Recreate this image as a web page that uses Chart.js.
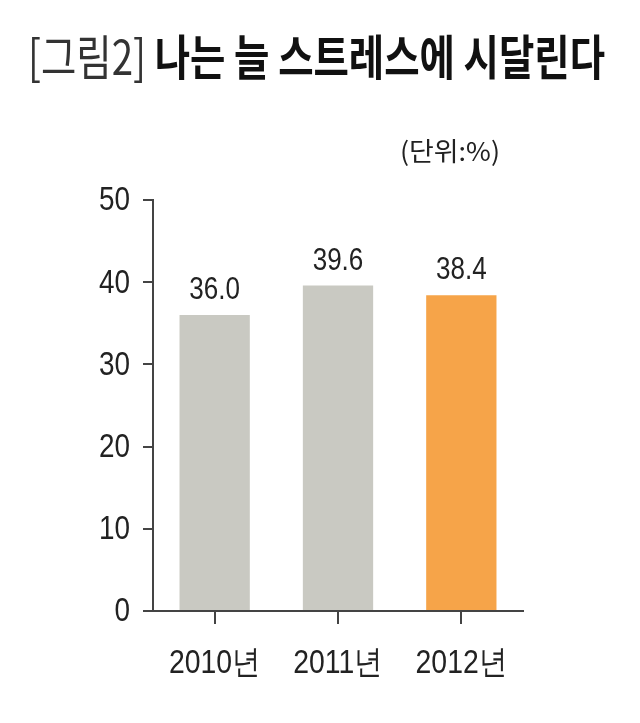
<!DOCTYPE html>
<html>
<head>
<meta charset="utf-8">
<script src="https://cdn.jsdelivr.net/npm/chart.js@4.4.0/dist/chart.umd.min.js"></script>
<style>
  html, body { margin: 0; padding: 0; background: #fff; }
  #wrap { position: relative; width: 640px; height: 723px; overflow: hidden; }
  #title { position: absolute; left: 28px; top: 30px; white-space: nowrap;
           font-family: "Noto Sans CJK KR", sans-serif; font-size: 48px; color: #111;
           transform-origin: 0 0; line-height: 1; }
  #title .pre { font-weight: 400; color: #333; }
  #title .main { font-weight: 700; }
  #unit { position: absolute; left: 400px; top: 137px; white-space: nowrap;
          font-family: "Noto Sans CJK KR", sans-serif; font-size: 26px; color: #222;
          transform-origin: 0 0; line-height: 1; }
  canvas { position: absolute; left: 0; top: 0; }
</style>
</head>
<body>
<div id="wrap">
  <canvas id="c" width="640" height="723"></canvas>
  <div id="title"><span class="pre">[그림2]</span> <span class="main">나는 늘 스트레스에 시달린다</span></div>
  <div id="unit">(단위:%)</div>
</div>
<script>
const categories = ["2010년", "2011년", "2012년"];
const values = [36.0, 39.6, 38.4];
const valueLabels = ["36.0", "39.6", "38.4"];
const yTicks = [0, 10, 20, 30, 40, 50];
const barColors = ["#c9c9c2", "#c9c9c2", "#f6a449"];

function fit(id, target) {
  const el = document.getElementById(id);
  const w = el.getBoundingClientRect().width;
  el.style.transform = "scaleX(" + (target / w) + ")";
}
fit("title", 577);
fit("unit", 100);

const numFont = "'Liberation Sans', Arial, sans-serif";

// draw text horizontally condensed (the reference uses a narrow face)
function drawNarrow(ctx, text, x, y, align, baseline, font, sx) {
  ctx.save();
  ctx.font = font;
  ctx.fillStyle = "#222";
  ctx.textAlign = align;
  ctx.textBaseline = baseline;
  ctx.translate(x, y);
  ctx.scale(sx, 1);
  ctx.fillText(text, 0, 0);
  ctx.restore();
}

const labelPlugin = {
  id: "narrowLabels",
  afterDraw(chart) {
    const ctx = chart.ctx;
    const xs = chart.scales.x, ys = chart.scales.y;
    // y tick labels
    ys.ticks.forEach(t => {
      drawNarrow(ctx, String(t.value), xs.left - 23, ys.getPixelForValue(t.value) + 1,
                 "right", "middle", "34px " + numFont, 0.82);
    });
    // x tick labels
    categories.forEach((c, i) => {
      drawNarrow(ctx, c, xs.getPixelForValue(i), ys.bottom + 53,
                 "center", "middle", "33px " + numFont, 0.86);
    });
    // value labels
    const meta = chart.getDatasetMeta(0);
    meta.data.forEach((bar, i) => {
      drawNarrow(ctx, valueLabels[i], bar.x, bar.y - 9,
                 "center", "bottom", "31px " + numFont, 0.84);
    });
  }
};

new Chart(document.getElementById("c"), {
  type: "bar",
  data: {
    labels: categories,
    datasets: [{
      data: values,
      backgroundColor: barColors,
      borderWidth: 0,
      categoryPercentage: 1,
      barPercentage: 0.57
    }]
  },
  options: {
    responsive: false,
    animation: false,
    devicePixelRatio: 1,
    layout: { padding: { top: 200, right: 117, left: 0, bottom: 0 } },
    plugins: { legend: { display: false }, tooltip: { enabled: false } },
    scales: {
      x: {
        offset: true,
        grid: { offset: false, drawOnChartArea: false, drawTicks: true, tickLength: 13, color: "#444", lineWidth: 2 },
        border: { display: true, color: "#444", width: 2 },
        ticks: { display: false },
        afterFit(scale) { scale.height = 112; }
      },
      y: {
        min: 0, max: 50,
        afterBuildTicks(scale) { scale.ticks = yTicks.map(v => ({ value: v })); },
        grid: { drawOnChartArea: false, drawTicks: true, tickLength: 10, color: "#444", lineWidth: 2 },
        border: { display: true, color: "#444", width: 2 },
        ticks: { display: false },
        afterFit(scale) { scale.width = 153; }
      }
    }
  },
  plugins: [labelPlugin]
});
</script>
</body>
</html>
